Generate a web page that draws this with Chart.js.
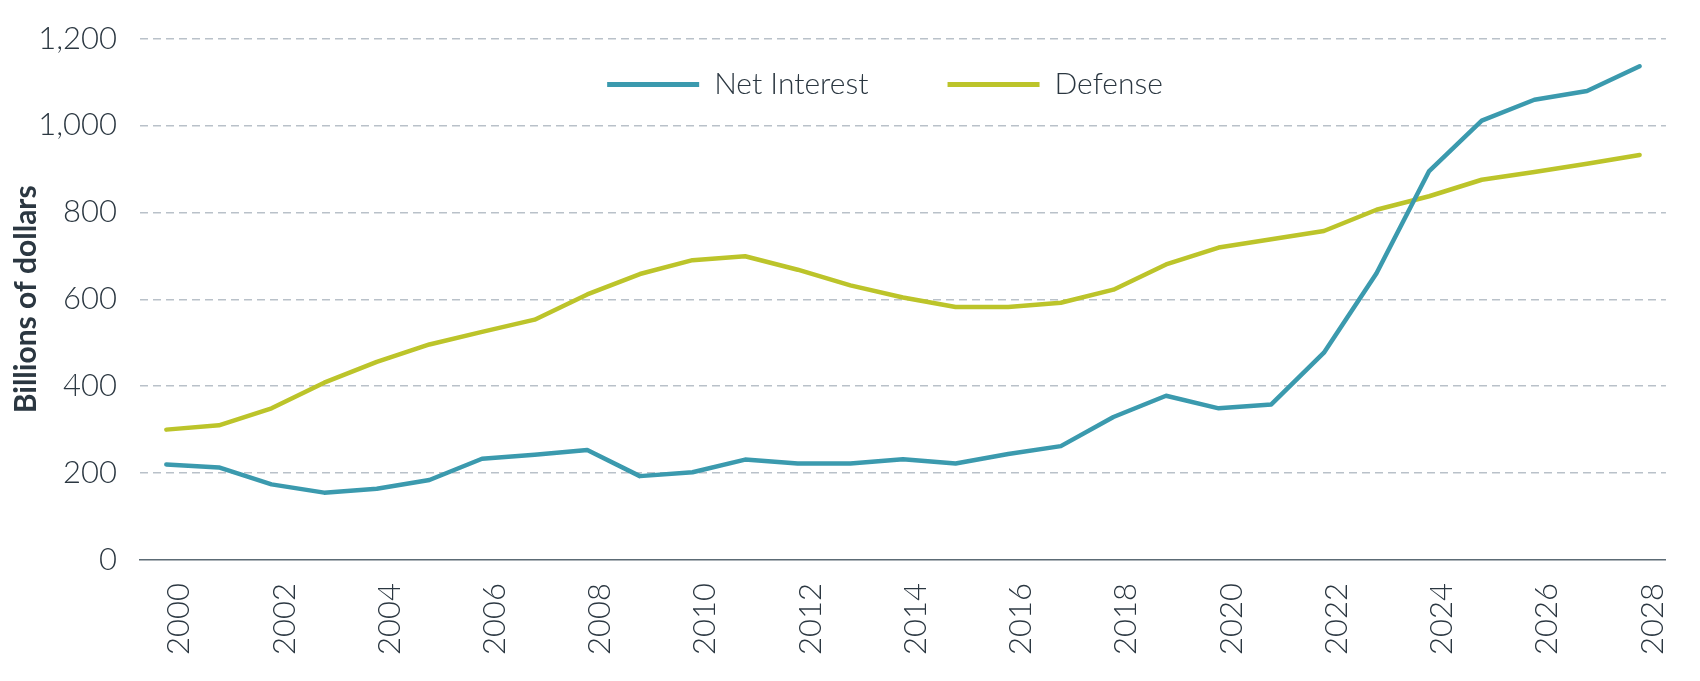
<!DOCTYPE html>
<html>
<head>
<meta charset="utf-8">
<script src="https://cdn.jsdelivr.net/npm/chart.js@4"></script>
<style>
  html, body { margin: 0; padding: 0; background: #fff; }
  #wrap { width: 1700px; height: 681px; position: relative; }
</style>
</head>
<body>
<div id="wrap"><canvas id="chart"></canvas></div>
<script>
const years = ["2000", "2001", "2002", "2003", "2004", "2005", "2006", "2007", "2008", "2009",
  "2010", "2011", "2012", "2013", "2014", "2015", "2016", "2017", "2018", "2019",
  "2020", "2021", "2022", "2023", "2024", "2025", "2026", "2027", "2028"];

const netInterest = [220, 213, 174, 155, 164, 184, 233, 242, 253, 193,
  202, 231, 222, 222, 232, 222, 244, 262, 329, 378,
  349, 358, 477, 660, 895, 1011, 1059, 1079, 1136];

const defense = [300, 310, 349, 408, 456, 496, 525, 553, 611, 658,
  690, 699, 668, 632, 604, 582, 582, 592, 622, 680,
  719, 738, 757, 806, 837, 875, 893, 912, 932];

const yTicks = [0, 200, 400, 600, 800, 1000, 1200];

const tealColor = "#3b9aae";
const limeColor = "#bcc42a";
const textColor = "#2b3741";

Chart.defaults.font.family = "Lato, 'Open Sans', sans-serif";
Chart.defaults.color = textColor;

// the legend sits inside the plot, just under the top gridline
const legendNudge = {
  id: "legendNudge",
  afterLayout(chart) {
    const lg = chart.legend;
    if (!lg) return;
    lg.top -= 18;
    lg.bottom = lg.top + 130;
    lg.left += 40;
    lg.right += 40;
  }
};

new Chart(document.getElementById("chart"), {
  type: "line",
  data: {
    labels: years,
    datasets: [
      {
        label: "Net Interest",
        data: netInterest,
        borderColor: tealColor,
        backgroundColor: tealColor,
        borderWidth: 4.5,
        pointRadius: 0,
        tension: 0,
        borderJoinStyle: "round",
        borderCapStyle: "round"
      },
      {
        label: "Defense",
        data: defense,
        borderColor: limeColor,
        backgroundColor: limeColor,
        borderWidth: 4.5,
        pointRadius: 0,
        tension: 0,
        borderJoinStyle: "round",
        borderCapStyle: "round"
      }
    ]
  },
  plugins: [legendNudge],
  options: {
    responsive: true,
    maintainAspectRatio: false,
    animation: false,
    layout: { padding: { left: 0, right: 10, top: 0, bottom: 0 } },
    plugins: {
      tooltip: { enabled: false },
      legend: {
        position: "top",
        align: "center",
        maxHeight: 30,
        labels: {
          boxWidth: 92,
          boxHeight: 5,
          padding: 79,
          color: textColor,
          font: { size: 30, weight: 300 },
          generateLabels: (chart) => chart.data.datasets.map((ds, i) => ({
            text: ds.label,
            fillStyle: ds.borderColor,
            strokeStyle: ds.borderColor,
            lineWidth: 0,
            fontColor: textColor,
            hidden: false,
            datasetIndex: i
          }))
        }
      }
    },
    scales: {
      x: {
        type: "category",
        offset: true,
        afterFit: (scale) => { scale.height = 121; },
        grid: { display: false, drawTicks: false },
        border: { display: true, color: "#5c6b75", width: 1.5 },
        ticks: {
          autoSkip: false,
          minRotation: 90,
          maxRotation: 90,
          padding: 23,
          labelOffset: 13,
          color: textColor,
          font: { size: 31, weight: 300 },
          callback: function (value, index) {
            return index % 2 === 0 ? this.getLabelForValue(value) : "";
          }
        }
      },
      y: {
        min: 0,
        max: 1200,
        afterBuildTicks: (scale) => { scale.ticks = yTicks.map(v => ({ value: v })); },
        afterFit: (scale) => { scale.width = 140; },
        grid: {
          drawTicks: false,
          color: (c) => c.tick && c.tick.value === 0 ? "rgba(0,0,0,0)" : "#b9c1c9",
          lineWidth: 1.5
        },
        border: { display: false, dash: [8, 5] },
        ticks: {
          padding: 23,
          color: textColor,
          font: { size: 31, weight: 300, lineHeight: 1 }
        },
        title: {
          display: true,
          text: "Billions of dollars",
          color: textColor,
          font: { size: 30, weight: "bold" },
          padding: { top: 8, bottom: 0 }
        }
      }
    }
  }
});
</script>
</body>
</html>
